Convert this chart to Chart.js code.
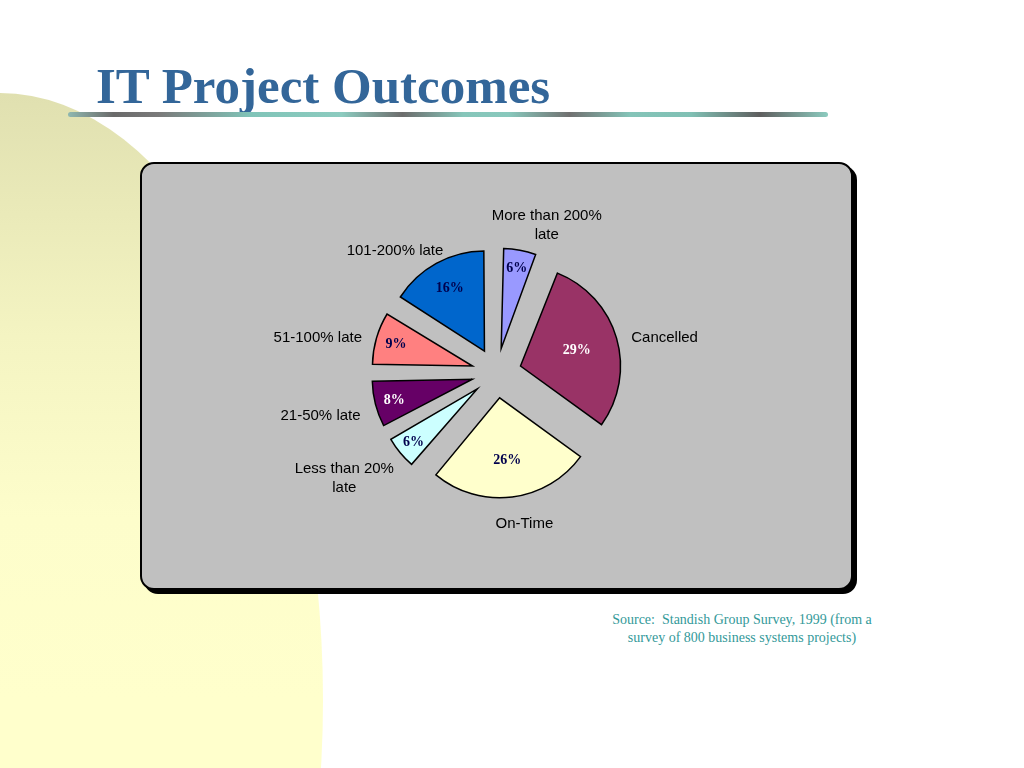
<!DOCTYPE html>
<html>
<head>
<meta charset="utf-8">
<title>IT Project Outcomes</title>
<script src="https://cdn.jsdelivr.net/npm/chart.js@4.4.0/dist/chart.umd.min.js"></script>
<style>
  body { margin: 0; width: 1024px; height: 768px; overflow: hidden; background: #fff; position: relative; }
  #blob {
    position: absolute; left: -323px; top: 93px; width: 646px; height: 1214px; border-radius: 50%;
    background: linear-gradient(#e0e0b0 0%, #f4f4c2 20%, #fdfdcb 35%, #ffffcc 50%);
  }
  #title {
    position: absolute; left: 96px; top: 61px; margin: 0;
    font: bold 51px/50px "Liberation Serif", "Times New Roman", serif; color: #336699;
  }
  #rule {
    position: absolute; left: 68px; top: 112px; width: 760px; height: 5px; border-radius: 3px;
    background: linear-gradient(90deg, #8fb8b0 0%, #6a6a6a 6%, #7a7a7a 12%, #80c4b8 24%, #8ccbbf 36%,
      #6c6c6c 44%, #86c6ba 52%, #88c8bc 58%, #707070 66%, #84c4b8 74%, #80c0b4 82%, #5e5e5e 91%, #8ccbbf 100%);
  }
  #box {
    position: absolute; left: 140px; top: 162px; width: 713px; height: 428px; box-sizing: border-box;
    border: 2px solid #000; border-radius: 14px; background: #c0c0c0; box-shadow: 4px 4px 0 #000;
  }
  #wrap { position: absolute; left: 140px; top: 162px; width: 713px; height: 428px; }
  #source {
    position: absolute; left: 592px; top: 611px; width: 300px; text-align: center;
    font: 14px/18px "Liberation Serif", "Times New Roman", serif; color: #339999;
  }
</style>
</head>
<body>
<div id="blob"></div>
<h1 id="title">IT Project Outcomes</h1>
<div id="rule"></div>
<div id="box"></div>
<div id="wrap"><canvas id="pieChart" width="713" height="428"></canvas></div>
<div id="source">Source:&nbsp; Standish Group Survey, 1999 (from a<br>survey of 800 business systems projects)</div>

<script>
// Slices, clockwise from 12 o'clock
const categories = ['More than 200% late', 'Cancelled', 'On-Time', 'Less than 20% late',
                    '21-50% late', '51-100% late', '101-200% late'];
const shares = [6, 29, 26, 6, 8, 9, 16];   // percent of projects

const sliceColors = ['#9999ff', '#993366', '#ffffcc', '#ccffff', '#660066', '#ff8080', '#0066cc'];
const pctColors = ['#00004d', '#ffffff', '#00004d', '#00004d', '#ffffff', '#00004d', '#00004d'];

const PIE_RADIUS = 100;
const EXPLODE = 25;      // px each slice is pulled out
const LABEL_GAP = 16;
const LABEL_DROP = 6;    // label ring sits a little lower than the pie
const LABEL_SQUASH = 4;  // ...and is a little flatter
const LINE_H = 19;

// word wrap for the outside labels
function wrapText(ctx, text, maxWidth) {
    const words = text.split(' ');
    const lines = [];
    let line = '';
    words.forEach(w => {
        const test = line ? line + ' ' + w : w;
        if (line && ctx.measureText(test).width > maxWidth) {
            lines.push(line);
            line = w;
        } else {
            line = test;
        }
    });
    lines.push(line);
    return lines;
}

// Chart.js grows small exploded slices a bit, keep all of them the same size
const evenRadius = {
    id: 'evenRadius',
    afterDatasetsUpdate(chart) {
        chart.getDatasetMeta(0).data.forEach(arc => {
            const circ = arc.endAngle - arc.startAngle;
            arc.outerRadius = PIE_RADIUS - EXPLODE * (1 - Math.sin(Math.min(Math.PI, circ)));
        });
    }
};

const sliceLabels = {
    id: 'sliceLabels',
    afterDatasetsDraw(chart) {
        const ctx = chart.ctx;
        ctx.save();
        ctx.textAlign = 'center';
        ctx.textBaseline = 'middle';
        chart.getDatasetMeta(0).data.forEach((arc, i) => {
            const {x, y, startAngle, endAngle} = arc.getProps(['x', 'y', 'startAngle', 'endAngle']);
            const a = (startAngle + endAngle) / 2;
            const dx = Math.cos(a), dy = Math.sin(a);

            // percentage inside the slice (thin slices get it further out)
            const rr = EXPLODE + PIE_RADIUS * (0.89 - 1.05 * shares[i] / 100);
            ctx.font = 'bold 14px "Liberation Serif", serif';
            ctx.fillStyle = pctColors[i];
            ctx.fillText(shares[i] + '%', x + dx * rr, y + dy * rr + 1);

            // category name outside, box pushed away from the pie
            ctx.font = '15px "Liberation Sans", Arial, sans-serif';
            ctx.fillStyle = '#000';
            const lines = wrapText(ctx, categories[i], 115);
            const w = Math.max(...lines.map(l => ctx.measureText(l).width));
            const h = lines.length * LINE_H;
            const d = EXPLODE + PIE_RADIUS + LABEL_GAP;
            const push = Math.sign(dx) * Math.sqrt(Math.abs(dx));
            const bx = x + dx * d + push * w / 2;
            const by = y + LABEL_DROP + dy * (d - LABEL_SQUASH) + dy * h / 2;
            lines.forEach((l, k) => ctx.fillText(l, bx, by - h / 2 + LINE_H * (k + 0.5)));
        });
        ctx.restore();
    }
};

const pieCtx = document.getElementById('pieChart').getContext('2d');
new Chart(pieCtx, {
    type: 'pie',
    data: {
        labels: categories,
        datasets: [{
            data: shares,
            backgroundColor: sliceColors,
            borderColor: '#000',
            borderWidth: 1.5,
            borderJoinStyle: 'miter',
            offset: EXPLODE * 4,
            radius: PIE_RADIUS
        }]
    },
    options: {
        responsive: false,
        animation: false,
        layout: { padding: { bottom: 6 } },
        plugins: {
            legend: { display: false },
            tooltip: { enabled: false }
        }
    },
    plugins: [evenRadius, sliceLabels]
});
</script>
</body>
</html>
